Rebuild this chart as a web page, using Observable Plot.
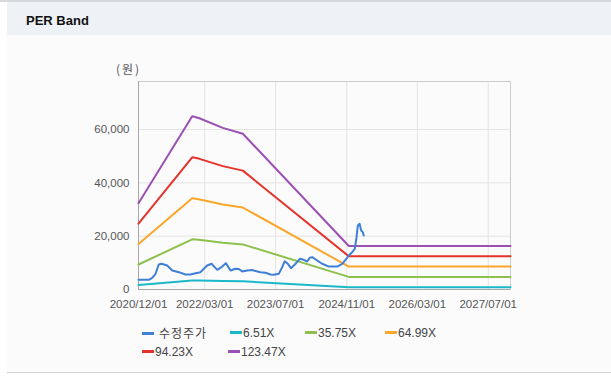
<!DOCTYPE html>
<html>
<head>
<meta charset="utf-8">
<script src="https://cdn.jsdelivr.net/npm/d3@7"></script>
<script src="https://cdn.jsdelivr.net/npm/@observablehq/plot@0.6"></script>
<style>
  html, body { margin: 0; padding: 0; background: #ffffff; width: 611px; height: 377px; overflow: hidden; font-family: "Liberation Sans", Arial, sans-serif; }
  #topline { position: absolute; left: 0; top: 0; width: 611px; height: 2px; background: #d6d8dc; }
  #header { position: absolute; left: 7px; top: 2px; width: 604px; height: 33px; background: #eef1f6; }
  #title { position: absolute; left: 19px; top: 11px; font-size: 13px; font-weight: bold; color: #111; }
  #content { position: absolute; left: 7px; top: 35px; width: 604px; height: 337px; background: #fbfbfc; border-bottom: 1px solid #d4d4d4; }
  #chart { position: absolute; left: 0; top: 35px; }
  #unit { position: absolute; left: 116px; top: 60px; font-size: 12px; color: #555; letter-spacing: 2px; font-family: "Noto Sans CJK KR", "Liberation Sans", sans-serif; }
  .leg { position: absolute; font-size: 12px; color: #444; white-space: nowrap; line-height: 14px; }
  .leg i { display: inline-block; width: 12px; height: 3px; vertical-align: middle; margin-right: 1px; position: relative; top: -1px; }
  .leg .kr { font-family: "Noto Sans CJK KR", sans-serif; letter-spacing: 1px; margin-left: 4px; }
</style>
</head>
<body>
<div id="topline"></div>
<div id="header"><div id="title">PER Band</div></div>
<div id="content"></div>
<div id="chart"></div>
<div id="unit">(원)</div>
<div id="legend"></div>
<script>
// ---- data ----
const seriesNames = ["수정주가", "6.51X", "35.75X", "64.99X", "94.23X", "123.47X"];
const seriesColors = ["#3f7fd8", "#1bb8c8", "#8dc04c", "#f9a62b", "#e5322a", "#9c50b3"];

const bandDates = ["2020-12-01", "2021-12-05", "2022-01-19", "2022-07-03", "2022-11-18", "2024-11-15", "2027-12-01"];
const band651  = [1710, 3420, 3390, 3200, 3080, 860, 860];
const band3575 = [9370, 18800, 18630, 17550, 16910, 4720, 4720];
const band6499 = [17030, 34190, 33860, 31910, 30740, 8580, 8580];
const band9423 = [24690, 49570, 49090, 46270, 44570, 12440, 12440];
const band12347 = [32350, 64950, 64330, 60620, 58400, 16300, 16300];

const priceDates = [
  "2020-12-01", "2021-02-10", "2021-03-05", "2021-03-28", "2021-04-19", "2021-05-08", "2021-06-16",
  "2021-07-21", "2021-09-04", "2021-10-20", "2021-11-23", "2021-12-28", "2022-01-31", "2022-02-23",
  "2022-03-18", "2022-04-17", "2022-05-02", "2022-05-26", "2022-06-24", "2022-07-24", "2022-08-13",
  "2022-08-25", "2022-09-28", "2022-10-21", "2022-11-14", "2022-12-18", "2023-01-21", "2023-02-13",
  "2023-03-19", "2023-04-23", "2023-05-27", "2023-06-19", "2023-07-23", "2023-08-15", "2023-09-02",
  "2023-09-23", "2023-10-15", "2023-11-15", "2023-12-14", "2024-01-11", "2024-02-03", "2024-02-21",
  "2024-03-09", "2024-04-12", "2024-05-16", "2024-07-01", "2024-08-27", "2024-10-01", "2024-10-23",
  "2024-11-15", "2024-12-08", "2024-12-26", "2025-01-07", "2025-01-16", "2025-01-28", "2025-02-08",
  "2025-02-19", "2025-02-26"
];
const priceValues = [
  3640, 3640, 4390, 5890, 9375, 9640, 9000,
  7125, 6500, 5625, 5600, 6125, 6500, 7760,
  9000, 9640, 8750, 7380, 8375, 9875, 8200,
  7125, 7760, 7700, 6780, 7125, 7300, 6900,
  6500, 6300, 5625, 5500, 5875, 8375, 10600,
  9640, 8000, 9640, 11500, 11130, 10500, 11880,
  12130, 10880, 9640, 8600, 8600, 9640, 11130,
  12750, 14000, 15260, 19600, 24000, 24640, 22125,
  21500, 20250
];

const xDomain = ["2020-12-01", "2027-12-01"];
const xTickLabels = ["2020/12/01", "2022/03/01", "2023/07/01", "2024/11/01", "2026/03/01", "2027/07/01"];
const yDomain = [0, 78000];
const yTicks = [0, 20000, 40000, 60000];

// ---- build ----
const parse = s => new Date(s.replace(/\//g, "-") + "T00:00:00Z");
const xTicks = xTickLabels.map(parse);
const toRows = (dates, vals) => dates.map((d, i) => ({date: parse(d), value: vals[i]}));
const bands = [band651, band3575, band6499, band9423, band12347];

const marks = [
  Plot.gridX(xTicks, {stroke: "#e4e4e4", strokeOpacity: 1}),
  Plot.gridY(yTicks.filter(v => v > 0), {stroke: "#e4e4e4", strokeOpacity: 1}),
  Plot.frame({stroke: "#cccccc"}),
  Plot.ruleX([parse(xDomain[0])], {stroke: "#a8a8a8"}),
  Plot.ruleY([0], {stroke: "#a8a8a8"}),
  Plot.axisX(xTicks, {tickSize: 0, tickPadding: 10, tickFormat: d3.utcFormat("%Y/%m/%d"), label: null}),
  Plot.axisY(yTicks, {tickSize: 0, tickPadding: 9, tickFormat: d3.format(","), label: null})
];
bands.forEach((vals, i) => {
  marks.push(Plot.line(toRows(bandDates, vals), {x: "date", y: "value", stroke: seriesColors[i + 1], strokeWidth: 2}));
});
marks.push(Plot.line(toRows(priceDates, priceValues), {x: "date", y: "value", stroke: seriesColors[0], strokeWidth: 2}));

const chart = Plot.plot({
  width: 611,
  height: 290,
  marginLeft: 138,
  marginRight: 101,
  marginTop: 46,
  marginBottom: 36,
  style: {fontFamily: "'Liberation Sans', Arial, sans-serif", fontSize: "11.5px", color: "#555", background: "transparent", overflow: "visible"},
  x: {type: "utc", domain: xDomain.map(parse)},
  y: {domain: yDomain},
  marks
});
document.getElementById("chart").appendChild(chart);

// ---- legend ----
const legendPos = [[142, 326], [230, 326], [305, 326], [385, 326], [142, 345], [228, 345]];
const legend = document.getElementById("legend");
seriesNames.forEach((name, i) => {
  const el = document.createElement("div");
  el.className = "leg";
  el.style.left = legendPos[i][0] + "px";
  el.style.top = legendPos[i][1] + "px";
  const sw = document.createElement("i");
  sw.style.background = seriesColors[i];
  const tx = document.createElement("span");
  tx.textContent = name;
  if (i === 0) tx.className = "kr";
  el.appendChild(sw);
  el.appendChild(tx);
  legend.appendChild(el);
});
</script>
</body>
</html>
